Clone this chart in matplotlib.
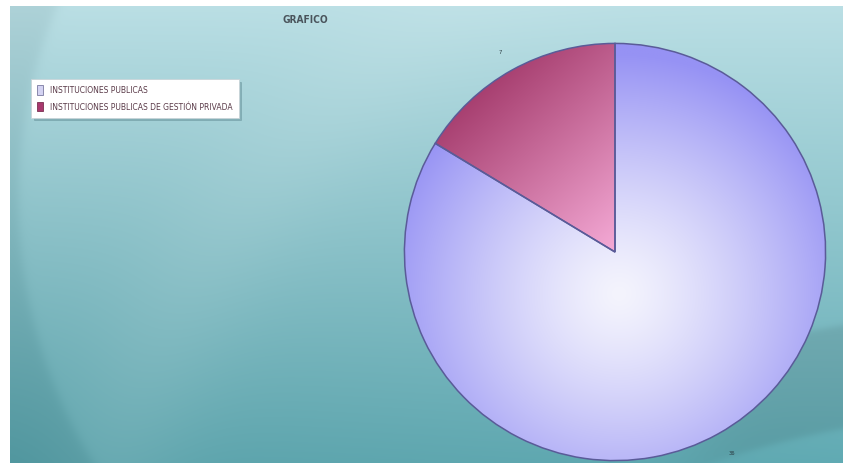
import numpy as np
import matplotlib
matplotlib.use("Agg")
import matplotlib.pyplot as plt
from matplotlib.patches import Rectangle

categorias = ["INSTITUCIONES PUBLICAS", "INSTITUCIONES PUBLICAS DE GESTIÓN PRIVADA"]
valores = [36, 7]
etiquetas = ["36", "7"]

W, H = 846, 464
fig = plt.figure(figsize=(W / 100, H / 100), dpi=100)
fig.patch.set_facecolor("white")

# fondo: degradado turquesa con arcos claros
yy, xx = np.mgrid[0:H, 0:W].astype(float)
t = yy / H
top = np.array([184, 222, 228]) / 255
bot = np.array([88, 166, 175]) / 255
bg = top[None, None, :] * (1 - t[..., None]) + bot[None, None, :] * t[..., None]
bg *= (1 - 0.05 * (1 - xx / W) * t)[..., None]
# gran círculo más claro
d = np.hypot(xx - 520, yy - 200)
inner = 1 / (1 + np.exp((d - 502) / 3))
bg = bg * (1 - 0.05 * inner[..., None]) + 0.05 * inner[..., None]
bg *= (1 - 0.05 * (1 - inner))[..., None]
# arco diagonal claro arriba
d2 = np.hypot(xx - 900, yy - 700)
band = np.exp(-((d2 - 820) / 70) ** 2)
bg = bg * (1 - 0.07 * band[..., None]) + 0.07 * band[..., None]
# franja oscura abajo a la derecha
d3 = np.hypot(xx - 1000, yy - 1300)
dark = 1 / (1 + np.exp(-(d3 - 885) / 2)) * 1 / (1 + np.exp((d3 - 987) / 2))
dark *= 1 / (1 + np.exp(-(xx - 700) / 25))
bg *= (1 - 0.09 * dark)[..., None]
bg = np.clip(bg, 0, 1)

ax_bg = fig.add_axes([10 / W, 0, 832 / W, 1 - 7 / H])
ax_bg.imshow(bg[7:, 10:842], aspect="auto", interpolation="bilinear")
ax_bg.axis("off")

fig.text(305 / W, 1 - 20 / H, "GRAFICO", ha="center", va="center",
         fontsize=7.3, fontweight="bold", color="#4a545c", fontstretch="condensed")

# pastel
cx, cy, rx, ry = 615, 253, 211, 209
ax = fig.add_axes([(cx - rx) / W, (H - cy - ry) / H, 2 * rx / W, 2 * ry / H])
wedges, textos = ax.pie(valores, labels=etiquetas, startangle=90, counterclock=False,
                        labeldistance=1.1, radius=1.0,
                        wedgeprops=dict(edgecolor="#5a5b98", linewidth=1.1),
                        textprops=dict(fontsize=3.8, color="#2a3a40"))
ax.set_aspect("auto")
ax.set_xlim(-1.002, 1.002)
ax.set_ylim(-1.002, 1.002)
ax.axis("off")

n = 400
gx, gy = np.meshgrid(np.linspace(-1, 1, n), np.linspace(1, -1, n))

# degradado radial para la porción azul
r = np.hypot(gx - 0.02, gy + 0.2) / 1.15
r = np.clip(r, 0, 1) ** 1.3
c0 = np.array([244, 244, 253]) / 255
c1 = np.array([150, 146, 244]) / 255
img_azul = c0 * (1 - r[..., None]) + c1 * r[..., None]

# degradado lineal para la porción rosa
v = np.array([0.85, -0.95])
v = v / np.linalg.norm(v)
s = ((gx + 0.85) * v[0] + (gy - 0.95) * v[1]) / 1.25
s = np.clip(s, 0, 1)
p0 = np.array([146, 34, 84]) / 255
p1 = np.array([243, 168, 212]) / 255
img_rosa = p0 * (1 - s[..., None]) + p1 * s[..., None]

for w, img in zip(wedges, [img_azul, img_rosa]):
    im = ax.imshow(img, extent=(-1, 1, -1, 1), aspect="auto", zorder=0.5,
                   interpolation="bilinear")
    im.set_clip_path(w)
    w.set_facecolor("none")
    w.set_zorder(1)

# leyenda
handles = [Rectangle((0, 0), 1, 1, facecolor="#d4d3f2", edgecolor="#7a7aa0", linewidth=0.6),
           Rectangle((0, 0), 1, 1, facecolor="#a8386e", edgecolor="#7a3050", linewidth=0.6)]
leg = fig.legend(handles, categorias, loc="upper left",
                 bbox_to_anchor=(27 / W, 1 - 76 / H), fontsize=5.5,
                 frameon=True, fancybox=False,
                 shadow=dict(color="#6f9aa2", alpha=0.6, ox=2, oy=-2),
                 handlelength=0.8, handleheight=1.5, handletextpad=0.8,
                 labelspacing=0.95, borderpad=0.85, labelcolor="#5a3a48")
leg.get_frame().set_edgecolor("#c8d4d8")
leg.get_frame().set_linewidth(0.6)

fig.savefig("out.png", dpi=100)
